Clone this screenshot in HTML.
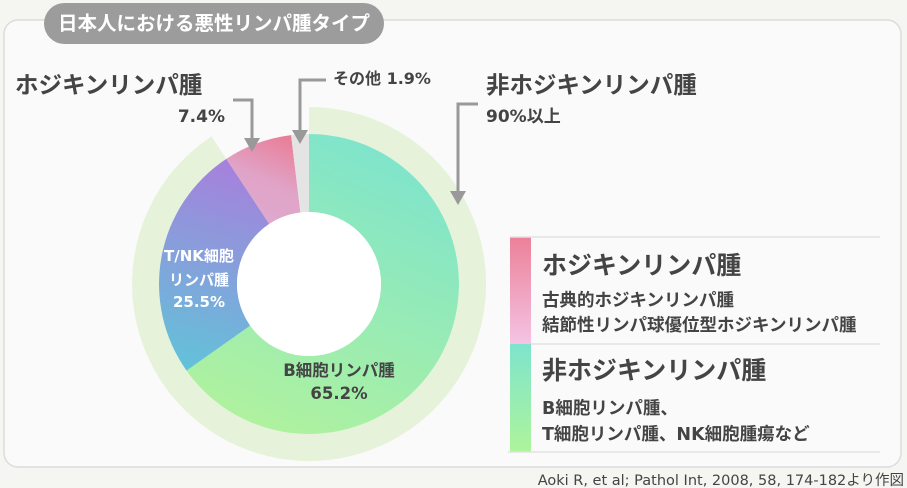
<!DOCTYPE html>
<html><head><meta charset="utf-8"><style>
body{margin:0;width:907px;height:488px;background:#f5f5f1;overflow:hidden;font-family:"DejaVu Sans","Noto Sans CJK JP",sans-serif;}
</style></head><body>
<svg width="907" height="488" viewBox="0 0 907 488" xmlns="http://www.w3.org/2000/svg" style="position:absolute;left:0;top:0;font-family:'DejaVu Sans','Noto Sans CJK JP',sans-serif;font-weight:bold">
<defs>
<linearGradient id="gB" gradientUnits="userSpaceOnUse" x1="380" y1="140" x2="250" y2="430"><stop offset="0" stop-color="#7ee4cc"/><stop offset="1" stop-color="#b0f29e"/></linearGradient>
<linearGradient id="gT" gradientUnits="userSpaceOnUse" x1="250" y1="160" x2="190" y2="370"><stop offset="0" stop-color="#a97edc"/><stop offset="1" stop-color="#62c2da"/></linearGradient>
<linearGradient id="gH" gradientUnits="userSpaceOnUse" x1="290" y1="135" x2="255" y2="215"><stop offset="0" stop-color="#ea7c96"/><stop offset="0.6" stop-color="#e0a4c8"/><stop offset="1" stop-color="#dfa8cc"/></linearGradient>
<linearGradient id="lp" x1="0" y1="0" x2="0" y2="1"><stop offset="0" stop-color="#ec8098"/><stop offset="1" stop-color="#f4c4e4"/></linearGradient>
<linearGradient id="lg" x1="0" y1="0" x2="0" y2="1"><stop offset="0" stop-color="#7ee4cc"/><stop offset="1" stop-color="#aef49c"/></linearGradient>
</defs>
<rect x="4" y="20" width="897" height="447" rx="14" fill="#fafafa" stroke="#dcdcdc" stroke-width="1.5"/>
<rect x="44" y="3" width="340" height="41" rx="20.5" fill="#9c9c9c"/>
<text x="214" y="30" text-anchor="middle" font-size="19.5" fill="#fff">日本人における悪性リンパ腫タイプ</text>

<path d="M309,107 A177,177 0 1,1 211.4,136.4 L226.3,158.9 A150,150 0 1,0 309,134 Z" fill="#e6f3da"/>
<path d="M309,134 A150,150 0 1,1 186.5,370.6 L250.2,325.6 A72,72 0 1,0 309,212 Z" fill="url(#gB)"/>
<path d="M186.5,370.6 A150,150 0 0,1 226.3,158.9 L269.3,223.9 A72,72 0 0,0 250.2,325.6 Z" fill="url(#gT)"/>
<path d="M226.3,158.9 A150,150 0 0,1 291.1,135.1 L300.4,212.5 A72,72 0 0,0 269.3,223.9 Z" fill="url(#gH)"/>
<path d="M291.1,135.1 A150,150 0 0,1 309,134 L309,212 A72,72 0 0,0 300.4,212.5 Z" fill="#e4e4e4"/>
<circle cx="309" cy="284" r="72" fill="#fff"/>

<text font-size="15" fill="#fff" text-anchor="middle"><tspan x="199" y="261">T/NK細胞</tspan><tspan x="199" y="285">リンパ腫</tspan><tspan x="199" y="307">25.5%</tspan></text>
<text font-size="16.5" fill="#444" text-anchor="middle"><tspan x="339" y="376">B細胞リンパ腫</tspan><tspan x="339" y="399">65.2%</tspan></text>

<g stroke="#999" stroke-width="3" fill="none">
<polyline points="233,100 252,100 252,140"/>
<polyline points="326,80 300,80 300,132"/>
<polyline points="478,104 458,104 458,193"/>
</g>
<g fill="#999">
<polygon points="244,138 260,138 252,152"/>
<polygon points="292,130 308,130 300,144"/>
<polygon points="450,191 466,191 458,205"/>
</g>

<text x="15" y="93" font-size="23.5" fill="#444">ホジキンリンパ腫</text>
<text x="225" y="122" font-size="17" fill="#444" text-anchor="end">7.4%</text>
<text x="333" y="84" font-size="16" fill="#444">その他 1.9%</text>
<text x="486" y="93" font-size="23.5" fill="#444">非ホジキンリンパ腫</text>
<text x="486" y="122" font-size="17" fill="#444">90%以上</text>

<rect x="510" y="237" width="21" height="107" fill="url(#lp)"/>
<rect x="510" y="344" width="21" height="108" fill="url(#lg)"/>
<g stroke="#e2e2e2" stroke-width="1.5"><line x1="510" y1="237" x2="880" y2="237"/><line x1="531" y1="344" x2="880" y2="344"/><line x1="508" y1="452" x2="880" y2="452"/></g>
<text x="542" y="274" font-size="25" fill="#444">ホジキンリンパ腫</text>
<text x="542" y="306" font-size="17.5" fill="#444">古典的ホジキンリンパ腫</text>
<text x="542" y="331" font-size="17.5" fill="#444">結節性リンパ球優位型ホジキンリンパ腫</text>
<text x="542" y="379" font-size="25" fill="#444">非ホジキンリンパ腫</text>
<text x="542" y="414" font-size="17.5" fill="#444">B細胞リンパ腫、</text>
<text x="542" y="440" font-size="17.5" fill="#444">T細胞リンパ腫、NK細胞腫瘍など</text>

<text x="904" y="485" font-size="14.5" font-weight="normal" fill="#444" text-anchor="end">Aoki R, et al; Pathol Int, 2008, 58, 174-182より作図</text>
</svg>
</body></html>
